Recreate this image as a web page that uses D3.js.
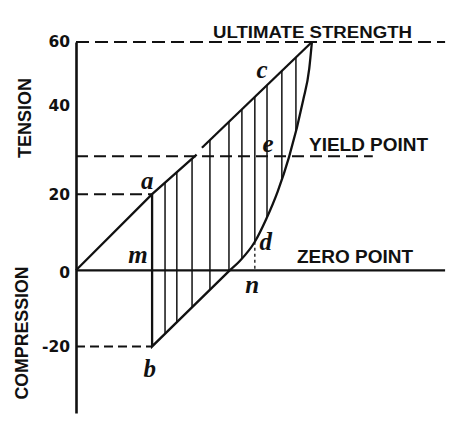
<!DOCTYPE html>
<html><head><meta charset="utf-8">
<script src="https://cdn.jsdelivr.net/npm/d3@7"></script>
<style>html,body{margin:0;padding:0;background:#fff;} svg{display:block;}</style>
</head><body>
<svg id="chart" width="459" height="427"></svg>
<script>
// ---- data (stress in thousands of lb / strain units) ----
const tickValues = [60, 40, 20, 0, -20];
const tickLabels = ["60", "40", "20", "0", "-20"];
const ultimateStrength = 60;
const yieldPoint = 30;
const loadingSegment1 = [[0, 0], [20, 20], [31.7, 30.4]];
const loadingSegment2 = [[33.1, 32.2], [62, 60]];
const unloadingStraight = [[20, 20], [20, -20], [40.4, 0]];
const reloadingCurve = [[40.4, 0], [43.1, 2.5], [47, 7.5], [50, 13.5], [53, 20.7], [56, 29.8], [59.7, 44.7], [61.3, 53], [62, 60]];
const hatchX = [23.4, 26.5, 30.5, 35.2, 40.2, 43.6, 47.0, 50.2, 54.1, 57.8];
const pointD = [47, 7.5];
const letterNames = ["a", "c", "e", "m", "b", "n", "d"];
const letterX = [18.7, 48.9, 50.5, 16.3, 19.4, 46.3, 49.9];
const letterY = [21.3, 50.5, 31.1, 1.9, -28, -6, 5.3];
const refNames = ["ultimate", "yield", "a-level", "b-level", "zero"];
const refValues = [ultimateStrength, yieldPoint, 20, -20, 0];
const refEnds = [97, 78, 20, 20, 97];
const titleTexts = ["ULTIMATE STRENGTH", "YIELD POINT", "ZERO POINT"];
const axisTitles = ["TENSION", "COMPRESSION"];

// ---- drawing ----
const ink = "#111";
const svg = d3.select("#chart");
svg.append("rect").attr("width", 459).attr("height", 427).attr("fill", "#fff");

const x = d3.scaleLinear().domain([0, 100]).range([76, 456.5]);
const y = d3.scaleLinear().domain([-37.5, 60]).range([413, 42]);

const lineLin = d3.line().x(d => x(d[0])).y(d => y(d[1]));
const lineCurve = d3.line().x(d => x(d[0])).y(d => y(d[1])).curve(d3.curveMonotoneX);

// reference lines
const refStyles = {
  "ultimate": {dash: "13,6", w: 2},
  "yield": {dash: "12,6", w: 2},
  "a-level": {dash: "12,6", w: 2},
  "b-level": {dash: "9,5", w: 2},
  "zero": {dash: null, w: 2.2}
};
refNames.forEach((n, i) => {
  const st = refStyles[n];
  svg.append("path")
    .attr("d", lineLin([[0, refValues[i]], [refEnds[i], refValues[i]]]))
    .attr("stroke", ink).attr("stroke-width", st.w).attr("fill", "none")
    .attr("stroke-dasharray", st.dash);
});

// clip region for hatching
const rev2 = loadingSegment2.slice().reverse();
const rev1 = loadingSegment1.slice(1).reverse();
const clipD = lineCurve(reloadingCurve) +
  lineLin([...rev2, ...rev1, unloadingStraight[1]]).replace(/^M/, "L") + "Z";
svg.append("clipPath").attr("id", "hatchClip").append("path").attr("d", clipD);

svg.append("g").attr("clip-path", "url(#hatchClip)")
  .selectAll("line").data(hatchX).join("line")
  .attr("x1", d => x(d)).attr("x2", d => x(d))
  .attr("y1", y(62)).attr("y2", y(-22))
  .attr("stroke", ink).attr("stroke-width", 1.5);

// dashed drop from d
svg.append("path").attr("d", lineLin([pointD, [pointD[0], 0]]))
  .attr("stroke", ink).attr("stroke-width", 1.3).attr("stroke-dasharray", "3,3").attr("fill", "none");

// curves
[loadingSegment1, loadingSegment2, unloadingStraight].forEach(seg => {
  svg.append("path").attr("d", lineLin(seg)).attr("stroke", ink)
    .attr("stroke-width", 2.3).attr("fill", "none").attr("stroke-linejoin", "miter");
});
svg.append("path").attr("d", lineCurve(reloadingCurve)).attr("stroke", ink)
  .attr("stroke-width", 2.3).attr("fill", "none");

// y axis
const yAxis = d3.axisLeft(y).tickValues(tickValues).tickSize(0).tickPadding(6)
  .tickFormat((d, i) => tickLabels[i]);
const gAxis = svg.append("g").attr("transform", `translate(${x(0)},0)`).call(yAxis);
gAxis.select(".domain").attr("stroke", ink).attr("stroke-width", 2.6);
gAxis.selectAll("text").attr("font-family", "DejaVu Sans").attr("font-weight", "bold")
  .attr("font-size", 15.5).attr("fill", ink);
gAxis.selectAll(".tick").filter(d => d === 40).select("text").attr("dy", "-0.5em");
gAxis.selectAll(".tick").filter(d => d === 0).select("text").attr("dy", "0.45em");

// axis titles
const tFont = "Liberation Sans, Arial, sans-serif";
svg.append("text").text(axisTitles[0])
  .attr("transform", `translate(31,${118}) rotate(-90)`)
  .attr("text-anchor", "middle").attr("font-family", tFont).attr("font-weight", "bold")
  .attr("font-size", 18).attr("fill", ink);
svg.append("text").text(axisTitles[1])
  .attr("transform", `translate(28,${333}) rotate(-90)`)
  .attr("text-anchor", "middle").attr("font-family", tFont).attr("font-weight", "bold")
  .attr("font-size", 18).attr("fill", ink).attr("textLength", 133).attr("lengthAdjust", "spacingAndGlyphs");

// line titles
const titleSpecs = [
  {x: 213, y: 38, size: 16, len: 199},
  {x: 309, y: 151, size: 18, len: 119},
  {x: 297, y: 263, size: 18, len: 116}
];
titleTexts.forEach((t, i) => {
  const s = titleSpecs[i];
  svg.append("text").text(t).attr("x", s.x).attr("y", s.y)
    .attr("font-family", tFont).attr("font-weight", "bold").attr("font-size", s.size)
    .attr("fill", ink).attr("textLength", s.len).attr("lengthAdjust", "spacingAndGlyphs");
});

// point letters
svg.append("g").selectAll("text").data(letterNames).join("text")
  .text(d => d)
  .attr("x", (d, i) => x(letterX[i])).attr("y", (d, i) => y(letterY[i]))
  .attr("text-anchor", "middle")
  .attr("font-family", "Liberation Serif, DejaVu Serif, serif")
  .attr("font-style", "italic").attr("font-weight", "bold")
  .attr("font-size", 25).attr("fill", ink);
</script>
</body></html>
